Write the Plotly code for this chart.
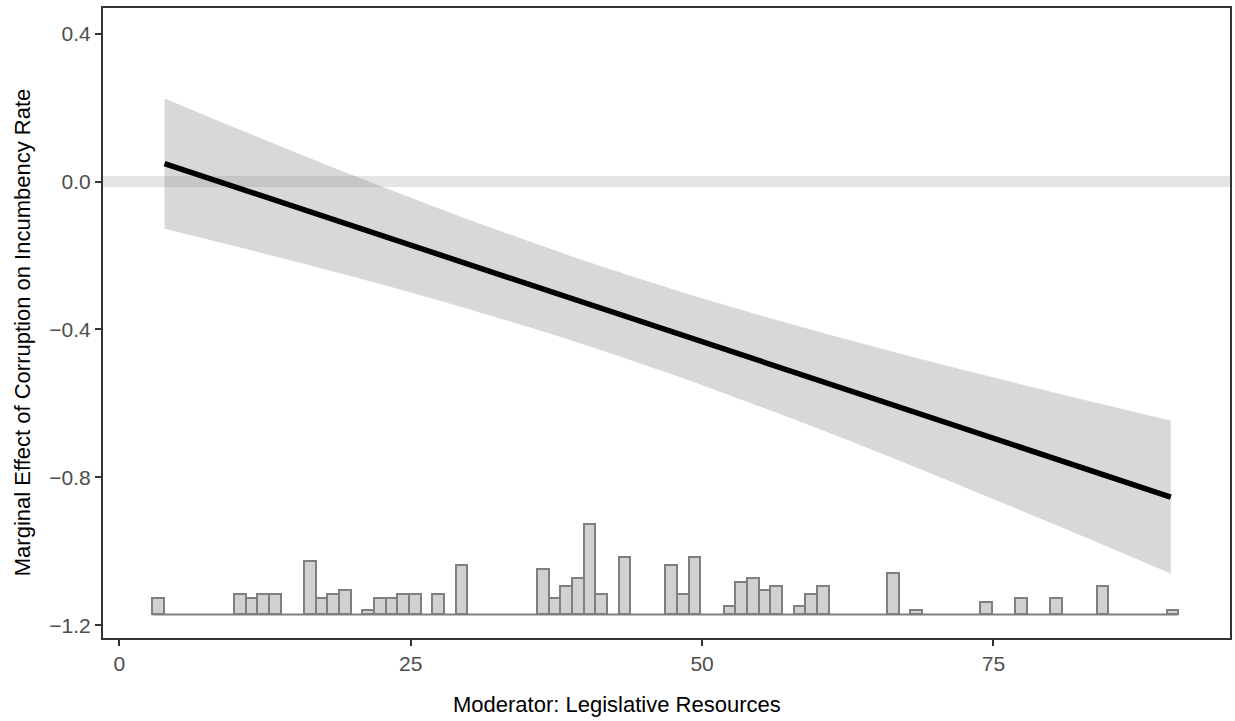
import plotly.graph_objects as go

# ---- data ----
line_x = [3.88, 90.21]
line_y = [0.0486, -0.853]

ci_x = [3.88, 10, 20, 30, 40, 50, 60, 70, 80, 90.21]
ci_upper = [0.2247, 0.1447, 0.0175, -0.1033, -0.2149, -0.3157, -0.4064, -0.4900, -0.5687, -0.6460]
ci_lower = [-0.1275, -0.1753, -0.2571, -0.3451, -0.4423, -0.5505, -0.6686, -0.7940, -0.9241, -1.0600]

hist_centers = [3.35, 10.35, 11.35, 12.35, 13.35, 16.35, 17.35, 18.35, 19.35, 21.35,
                22.35, 23.35, 24.35, 25.35, 27.35, 29.35, 36.35, 37.35, 38.35, 39.35,
                40.35, 41.35, 43.35, 47.35, 48.35, 49.35, 52.35, 53.35, 54.35, 55.35,
                56.35, 58.35, 59.35, 60.35, 66.35, 68.35, 74.35, 77.35, 80.35, 84.35, 90.35]
hist_counts = [4, 5, 4, 5, 5, 13, 4, 5, 6, 1,
               4, 4, 5, 5, 5, 12, 11, 4, 7, 9,
               22, 5, 14, 12, 5, 14, 2, 8, 9, 6,
               7, 2, 5, 7, 10, 1, 3, 4, 4, 7, 1]
BIN_WIDTH = 1.0
HIST_BASE = -1.1703
HIST_UNIT = 0.01108  # y units per count

x_ticks = [0, 25, 50, 75]
y_ticks = [-1.2, -0.8, -0.4, 0.0, 0.4]
y_ticktext = ["\u22121.2", "\u22120.8", "\u22120.4", "0.0", "0.4"]

X_RANGE = [-1.396, 95.29]
Y_RANGE = [-1.234, 0.469]

FONT = "Liberation Sans, Arial, Helvetica, sans-serif"

fig = go.Figure()

# confidence ribbon
fig.add_trace(go.Scatter(x=ci_x, y=ci_upper, mode="lines",
                         line=dict(width=0, shape="spline", smoothing=0.8),
                         hoverinfo="skip", showlegend=False))
fig.add_trace(go.Scatter(x=ci_x, y=ci_lower, mode="lines",
                         line=dict(width=0, shape="spline", smoothing=0.8),
                         fill="tonexty", fillcolor="rgba(127,127,127,0.3)",
                         hoverinfo="skip", showlegend=False))

# histogram baseline
edge_lo = min(hist_centers) - BIN_WIDTH / 2
edge_hi = max(hist_centers) + BIN_WIDTH / 2
fig.add_trace(go.Scatter(x=[edge_lo, edge_hi], y=[HIST_BASE, HIST_BASE], mode="lines",
                         line=dict(color="#7F7F7F", width=2), showlegend=False,
                         hoverinfo="skip"))
# histogram bars
fig.add_trace(go.Bar(x=hist_centers, y=[c * HIST_UNIT for c in hist_counts],
                     base=HIST_BASE, width=BIN_WIDTH,
                     marker=dict(color="#D1D1D1", line=dict(color="#7F7F7F", width=2)),
                     showlegend=False))

# marginal effect line
fig.add_trace(go.Scatter(x=line_x, y=line_y, mode="lines",
                         line=dict(color="black", width=5.5), showlegend=False))

# zero reference band
fig.add_shape(type="line", xref="paper", x0=0, x1=1, yref="y", y0=0, y1=0,
              line=dict(color="rgba(127,127,127,0.2)", width=11), layer="below")

axis_common = dict(showgrid=False, zeroline=False, showline=True, mirror=True,
                   linecolor="#333333", linewidth=2, ticks="outside", ticklen=6,
                   tickwidth=2, tickcolor="#333333",
                   tickfont=dict(family=FONT, size=21, color="#4D4D4D"))

fig.update_layout(
    width=1235, height=721,
    margin=dict(l=103, r=3, t=8, b=83),
    paper_bgcolor="white", plot_bgcolor="white",
    bargap=0,
    xaxis=dict(range=X_RANGE, tickvals=x_ticks, ticktext=[str(v) for v in x_ticks],
               **axis_common),
    yaxis=dict(range=Y_RANGE, tickvals=y_ticks, ticktext=y_ticktext, **axis_common),
    font=dict(family=FONT),
)

fig.add_annotation(text="Moderator: Legislative Resources", xref="paper", yref="paper",
                   x=0.4557, y=-0.1063, xanchor="center", yanchor="middle", showarrow=False,
                   font=dict(family=FONT, size=22, color="black"))
fig.add_annotation(text="Marginal Effect of Corruption on Incumbency Rate", xref="paper",
                   yref="paper", x=-0.0717, y=0.4857, xanchor="center", yanchor="middle",
                   textangle=-90, showarrow=False,
                   font=dict(family=FONT, size=22, color="black"))

fig.write_html("out.html")
